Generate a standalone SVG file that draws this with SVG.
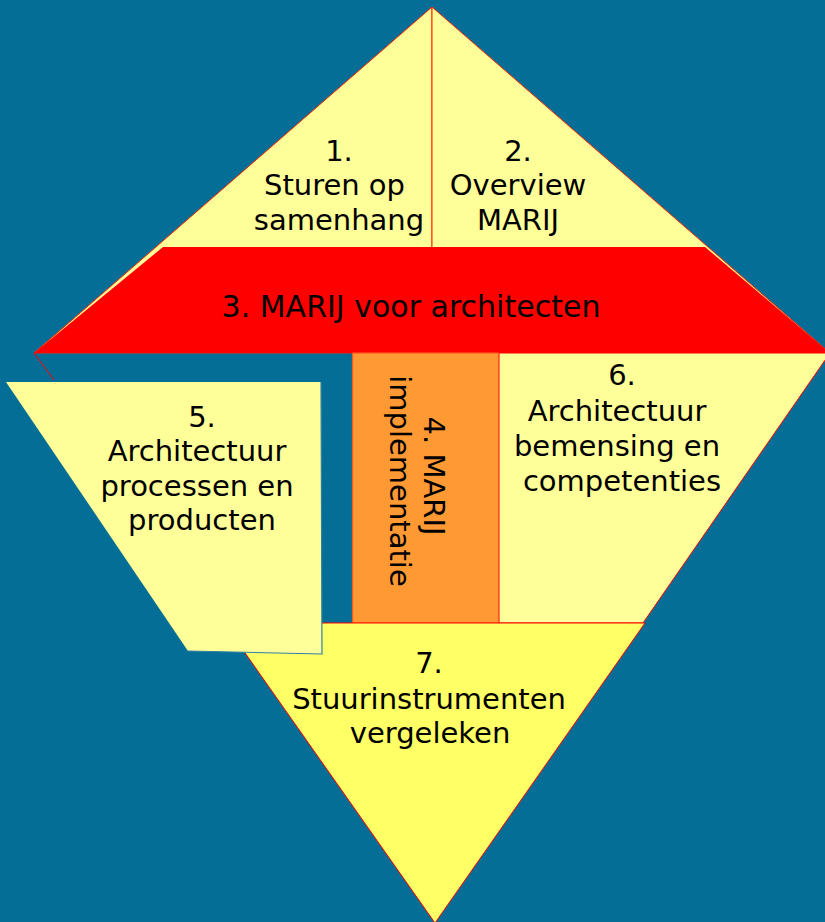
<svg xmlns="http://www.w3.org/2000/svg" width="825" height="922" viewBox="0 0 825 922">
<style>
.t{font-family:"DejaVu Sans",Verdana,sans-serif;font-size:29px;fill:#000;text-anchor:middle}
.pale{fill:#FFFF99;stroke:#FF2200;stroke-width:1}
</style>
<rect x="0" y="0" width="825" height="922" fill="#046E96"/>
<g id="node-1">
<polygon class="pale" points="432,7 34,353 432,353"/>
<text class="t" x="339" y="161">1.</text>
<text class="t" x="334.5" y="195">Sturen op</text>
<text class="t" x="339" y="230">samenhang</text>
</g>
<g id="node-2">
<polygon class="pale" points="432,7 432,353 830,353"/>
<text class="t" x="518" y="161">2.</text>
<text class="t" x="518" y="195">Overview</text>
<text class="t" x="518" y="230">MARIJ</text>
</g>
<g id="node-3">
<polygon points="163,247 705,247 830,353 34,353" fill="#FF0000"/>
<text class="t" x="411" y="317" style="font-size:30px">3. MARIJ voor architecten</text>
</g>
<g id="node-6">
<polygon points="499,353 830,353 643,623 499,623" fill="#FFFF99" stroke="#FF0000" stroke-width="1"/>
<text class="t" x="622" y="385">6.</text>
<text class="t" x="617" y="421">Architectuur</text>
<text class="t" x="617" y="456">bemensing en</text>
<text class="t" x="622" y="491">competenties</text>
</g>
<g id="node-4">
<rect x="352.5" y="353" width="146" height="270" fill="#FF9933" stroke="#FF5522" stroke-width="1.2"/>
<text class="t" transform="translate(424,476) rotate(90)" x="0" y="0">4. MARIJ</text>
<text class="t" transform="translate(390,481) rotate(90)" x="0" y="0">implementatie</text>
</g>
<g id="node-7">
<polygon points="224,623 645,623 435,923" fill="#FFFF66" stroke="#FF0000" stroke-width="1"/>
<text class="t" x="429" y="673">7.</text>
<text class="t" x="429" y="709">Stuurinstrumenten</text>
<text class="t" x="430" y="743">vergeleken</text>
</g>
<g id="node-5">
<polygon points="6,382 321,382 322,654 188,651" fill="#FFFF99"/>
<polyline points="321,382 322,654 188,651" fill="none" stroke="#2F7FA8" stroke-width="1.2"/>
<text class="t" x="202" y="427">5.</text>
<text class="t" x="197" y="461">Architectuur</text>
<text class="t" x="197" y="496">processen en</text>
<text class="t" x="202" y="530">producten</text>
</g>
<g id="connectors">
<line x1="34" y1="353" x2="54" y2="380" stroke="#FF0000" stroke-width="1"/>
</g>
</svg>
